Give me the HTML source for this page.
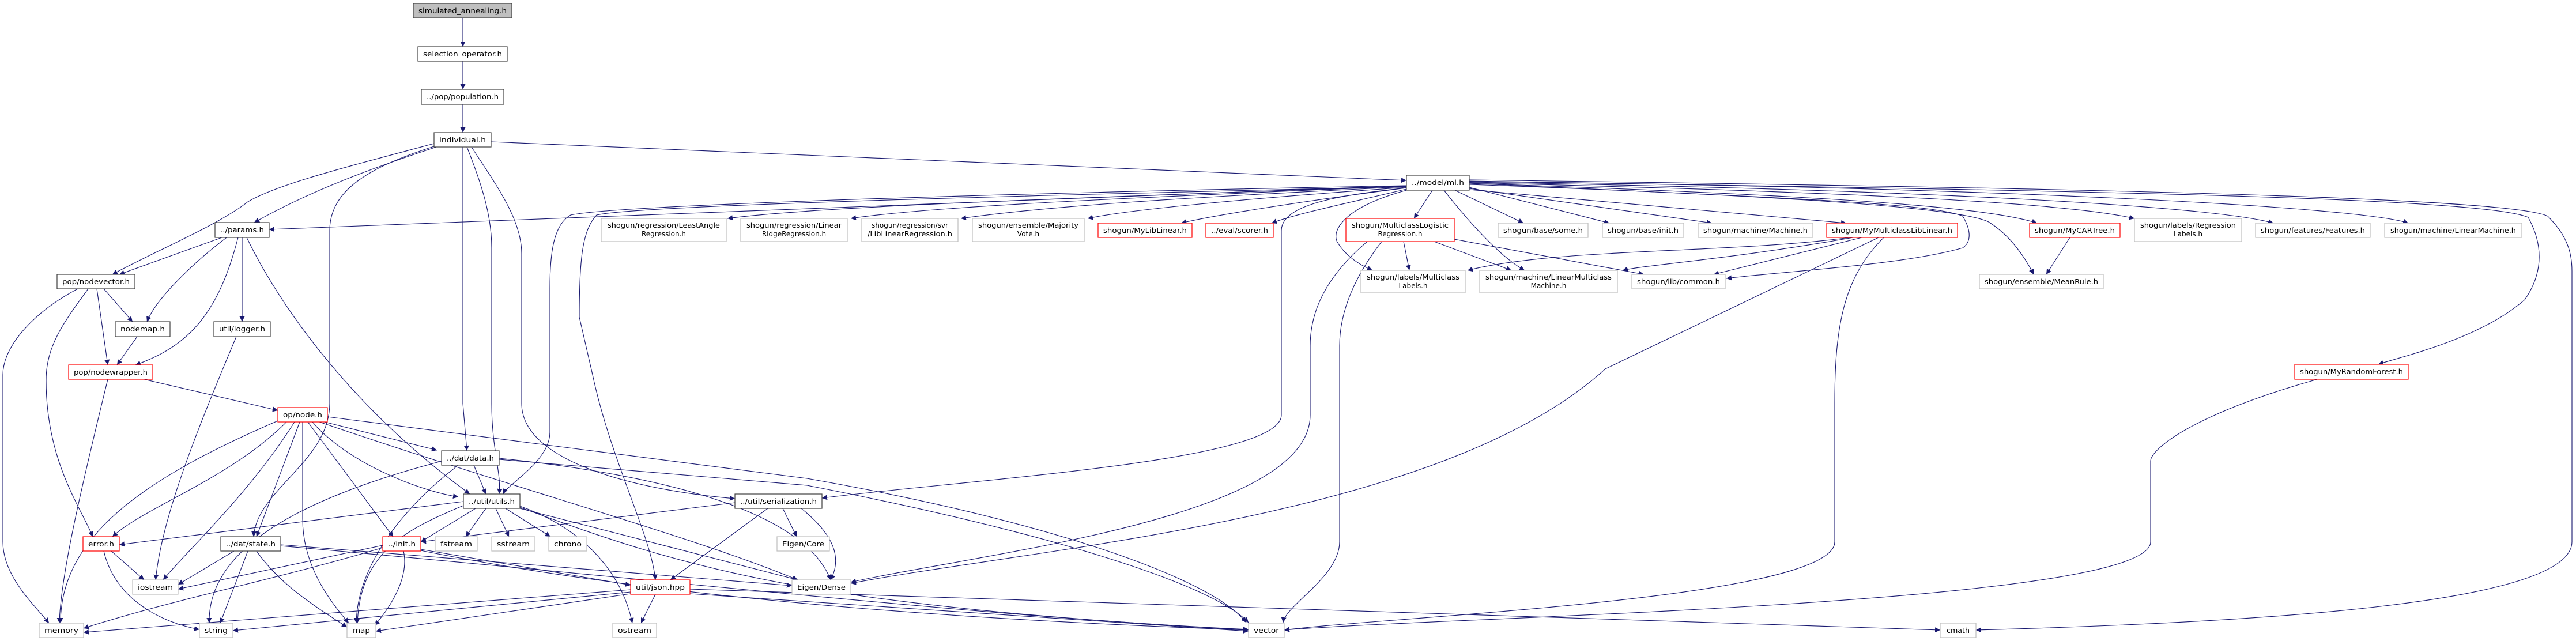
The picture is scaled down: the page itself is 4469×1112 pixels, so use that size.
<!DOCTYPE html>
<html><head><meta charset="utf-8"><style>
html,body{margin:0;padding:0;background:#fff;}
svg{display:block;}
text{font-family:"DejaVu Sans","Liberation Sans",sans-serif;font-size:12px;fill:#000;}
.b{fill:#fff;stroke:#404040;stroke-width:1.2}
.r{fill:#fff;stroke:#ff0000;stroke-width:1.2}
.g{fill:#fff;stroke:#bfbfbf;stroke-width:1.2}
.root{fill:#bfbfbf;stroke:#404040;stroke-width:1.2}
.e path{fill:none;stroke:#191970;stroke-width:1.1;marker-end:url(#a)}
</style></head><body>
<svg width="4469" height="1112" viewBox="0 0 4469 1112" xmlns="http://www.w3.org/2000/svg">
<defs><marker id="a" viewBox="0 0 10 10" refX="10" refY="5" markerWidth="9" markerHeight="9" markerUnits="userSpaceOnUse" orient="auto"><path d="M0,0 L10,5 L0,10 z" fill="#191970"/></marker></defs>
<g class="e">
<path d="M803 31 L803 81"/>
<path d="M803 106 L803 155"/>
<path d="M803 181 L803 230"/>
<path d="M852 246 L2440 313"/>
<path d="M760 254 C650 290 540 330 441 386"/>
<path d="M753 249 C600 290 480 320 430 350 C380 390 260 440 195 476"/>
<path d="M753 254 C640 290 572 330 572 400 L572 700 C572 800 445 850 440 931"/>
<path d="M803 255 L803 700 L810 782"/>
<path d="M810 255 C840 330 853 380 853 430 L853 700 C853 780 870 820 866 857"/>
<path d="M818 255 C860 320 905 380 905 440 L905 700 C905 800 1100 850 1275 865"/>
<path d="M2440 322 L467 398"/>
<path d="M2440 322 C1500 340 1050 360 990 373 C960 390 954 440 954 500 L954 750 C954 800 880 840 873 857"/>
<path d="M2440 324 C1500 345 1090 360 1035 373 C1010 400 1005 450 1005 550 L1028 650 C1060 800 1130 930 1137 1006"/>
<path d="M2440 323 C1800 345 1400 360 1262 379"/>
<path d="M2440 323 C1900 345 1600 360 1476 379"/>
<path d="M2440 324 C2000 345 1800 360 1667 379"/>
<path d="M2440 325 C2150 345 1950 365 1887 379"/>
<path d="M2440 326 C2250 350 2100 375 2049 387"/>
<path d="M2440 328 C2350 350 2250 370 2206 387"/>
<path d="M2485 330 L2453 379"/>
<path d="M2524 330 L2643 387"/>
<path d="M2549 325 L2792 387"/>
<path d="M2549 327 L2970 387"/>
<path d="M2549 329 L3203 387"/>
<path d="M2505 330 C2560 400 2610 450 2645 469"/>
<path d="M2549 318 C3000 340 3350 350 3405 375 C3420 400 3420 420 3405 430 C3300 460 3100 470 2995 483"/>
<path d="M2440 330 C2330 360 2310 400 2320 420 C2335 445 2360 460 2381 469"/>
<path d="M2549 318 C3200 340 3450 360 3534 387"/>
<path d="M2549 320 C3100 340 3400 360 3450 385 C3490 410 3515 450 3528 476"/>
<path d="M3591 412 L3550 476"/>
<path d="M2549 317 C3300 335 3600 355 3703 379"/>
<path d="M2549 316 C3400 330 3850 360 3944 387"/>
<path d="M2549 315 C3500 325 4100 360 4178 387"/>
<path d="M2549 314 C3500 330 4300 340 4386 377 C4410 420 4415 470 4380 520 C4300 590 4160 620 4126 632"/>
<path d="M2549 312 C3500 325 4350 340 4420 375 C4455 410 4462 440 4462 470 L4462 940 C4462 1050 3900 1080 3428 1093"/>
<path d="M2440 326 C2300 340 2223 360 2223 400 L2223 720 C2223 800 1700 830 1426 864"/>
<path d="M2435 419 L2445 469"/>
<path d="M2488 419 L2622 469"/>
<path d="M2523 415 L2852 476"/>
<path d="M2372 419 C2300 480 2273 540 2273 600 L2273 720 C2273 900 1700 960 1476 1010"/>
<path d="M2397 419 C2350 480 2324 540 2324 600 L2324 940 C2324 1000 2230 1050 2226 1080"/>
<path d="M3209 412 C3000 440 2700 430 2546 469"/>
<path d="M3215 412 C3000 450 2850 460 2815 469"/>
<path d="M3230 412 L2973 476"/>
<path d="M3259 412 L2785 640 C2500 900 1800 950 1476 1012"/>
<path d="M3268 412 C3200 480 3183 560 3183 700 L3183 940 C3183 1040 2400 1070 2228 1093"/>
<path d="M4020 658 C3800 720 3731 780 3731 800 L3731 940 C3731 1050 2500 1070 2228 1093"/>
<path d="M385 412 L207 476"/>
<path d="M393 412 C330 460 270 520 255 558"/>
<path d="M413 412 C380 540 330 600 235 633"/>
<path d="M420 412 L420 558"/>
<path d="M428 412 C480 520 600 700 815 857"/>
<path d="M135 501 C60 540 5 600 5 650 L5 940 C5 1000 60 1050 85 1081"/>
<path d="M153 501 C110 560 80 600 80 660 C80 800 140 880 161 931"/>
<path d="M168 501 L187 633"/>
<path d="M180 501 L230 558"/>
<path d="M238 584 L203 633"/>
<path d="M410 584 C340 750 280 900 270 1006"/>
<path d="M187 658 C140 850 105 1000 103 1081"/>
<path d="M250 658 L482 712"/>
<path d="M482 730 C250 830 105 930 105 1081"/>
<path d="M497 732 C400 830 250 880 195 931"/>
<path d="M511 732 C430 860 320 960 283 1006"/>
<path d="M520 732 L445 931"/>
<path d="M525 732 L525 900 C525 980 570 1040 605 1081"/>
<path d="M534 732 L682 931"/>
<path d="M542 732 C600 800 720 850 795 862"/>
<path d="M554 732 C900 850 1200 930 1384 1006"/>
<path d="M555 730 L758 781"/>
<path d="M568 723 L1400 830 C1800 900 2100 1000 2162 1080"/>
<path d="M822 807 L843 857"/>
<path d="M795 807 C700 880 620 980 618 1081"/>
<path d="M766 800 C500 870 360 960 363 1081"/>
<path d="M866 795 C1200 830 1400 900 1441 1006"/>
<path d="M866 797 L1400 842 C1800 920 2100 1010 2166 1080"/>
<path d="M804 870 L207 945"/>
<path d="M825 882 L730 940"/>
<path d="M843 882 L808 931"/>
<path d="M860 882 L883 931"/>
<path d="M877 882 L955 931"/>
<path d="M804 877 C700 920 625 960 620 1081"/>
<path d="M902 878 C1020 920 1080 1000 1097 1081"/>
<path d="M902 882 L1384 1006"/>
<path d="M902 880 C1200 990 1400 1050 2166 1093"/>
<path d="M1332 882 L1163 1006"/>
<path d="M1358 882 L1382 931"/>
<path d="M1390 882 C1450 930 1460 970 1441 1006"/>
<path d="M1275 872 L730 940"/>
<path d="M193 956 L250 1006"/>
<path d="M180 956 C200 1040 280 1080 346 1092"/>
<path d="M406 956 L309 1014"/>
<path d="M430 956 L382 1081"/>
<path d="M445 956 C490 1020 560 1060 602 1088"/>
<path d="M487 945 L1374 1016"/>
<path d="M487 947 C1200 1010 1700 1070 2166 1092"/>
<path d="M664 946 L309 1022"/>
<path d="M664 950 C500 1000 300 1040 145 1090"/>
<path d="M700 956 C710 1000 680 1050 650 1085"/>
<path d="M730 953 L1094 1015"/>
<path d="M730 955 C1200 1050 1800 1080 2166 1093"/>
<path d="M1094 1023 L145 1097"/>
<path d="M1094 1027 L404 1094"/>
<path d="M1094 1030 L652 1095"/>
<path d="M1137 1031 L1112 1081"/>
<path d="M1197 1030 L2166 1095"/>
<path d="M1197 1022 L3366 1093"/>
</g>
<g text-anchor="middle">
<rect class="root" x="717" y="6" width="171" height="25"/><text x="802.5" y="23" textLength="153" lengthAdjust="spacingAndGlyphs">simulated_annealing.h</text>
<rect class="b" x="725" y="81" width="155" height="25"/><text x="802.5" y="98" textLength="137" lengthAdjust="spacingAndGlyphs">selection_operator.h</text>
<rect class="b" x="731" y="155" width="143" height="26"/><text x="802.5" y="172" textLength="125" lengthAdjust="spacingAndGlyphs">../pop/population.h</text>
<rect class="b" x="753" y="230" width="99" height="25"/><text x="802.5" y="247" textLength="81" lengthAdjust="spacingAndGlyphs">individual.h</text>
<rect class="b" x="2440" y="304" width="109" height="26"/><text x="2494.5" y="321" textLength="91" lengthAdjust="spacingAndGlyphs">../model/ml.h</text>
<rect class="b" x="373" y="386" width="94" height="26"/><text x="420" y="403" textLength="76" lengthAdjust="spacingAndGlyphs">../params.h</text>
<rect class="g" x="1043" y="379" width="217" height="40"/><text x="1151.5" y="395" textLength="195" lengthAdjust="spacingAndGlyphs">shogun/regression/LeastAngle</text><text x="1151.5" y="410">Regression.h</text>
<rect class="g" x="1285" y="379" width="185" height="40"/><text x="1377.5" y="395" textLength="165" lengthAdjust="spacingAndGlyphs">shogun/regression/Linear</text><text x="1377.5" y="410">RidgeRegression.h</text>
<rect class="g" x="1495" y="379" width="167" height="40"/><text x="1578.5" y="395">shogun/regression/svr</text><text x="1578.5" y="410" textLength="147" lengthAdjust="spacingAndGlyphs">/LibLinearRegression.h</text>
<rect class="g" x="1687" y="379" width="194" height="40"/><text x="1784" y="395" textLength="174" lengthAdjust="spacingAndGlyphs">shogun/ensemble/Majority</text><text x="1784" y="410">Vote.h</text>
<rect class="r" x="1905" y="387" width="163" height="25"/><text x="1986.5" y="404" textLength="145" lengthAdjust="spacingAndGlyphs">shogun/MyLibLinear.h</text>
<rect class="r" x="2092" y="387" width="117" height="25"/><text x="2150.5" y="404" textLength="99" lengthAdjust="spacingAndGlyphs">../eval/scorer.h</text>
<rect class="r" x="2335" y="379" width="188" height="40"/><text x="2429" y="395" textLength="168" lengthAdjust="spacingAndGlyphs">shogun/MulticlassLogistic</text><text x="2429" y="410">Regression.h</text>
<rect class="g" x="2599" y="387" width="156" height="25"/><text x="2677" y="404" textLength="138" lengthAdjust="spacingAndGlyphs">shogun/base/some.h</text>
<rect class="g" x="2780" y="387" width="141" height="25"/><text x="2850.5" y="404" textLength="123" lengthAdjust="spacingAndGlyphs">shogun/base/init.h</text>
<rect class="g" x="2946" y="387" width="199" height="25"/><text x="3045.5" y="404" textLength="181" lengthAdjust="spacingAndGlyphs">shogun/machine/Machine.h</text>
<rect class="r" x="3169" y="387" width="227" height="25"/><text x="3282.5" y="404" textLength="209" lengthAdjust="spacingAndGlyphs">shogun/MyMulticlassLibLinear.h</text>
<rect class="r" x="3521" y="387" width="157" height="25"/><text x="3599.5" y="404" textLength="139" lengthAdjust="spacingAndGlyphs">shogun/MyCARTree.h</text>
<rect class="g" x="3703" y="379" width="186" height="40"/><text x="3796" y="395" textLength="166" lengthAdjust="spacingAndGlyphs">shogun/labels/Regression</text><text x="3796" y="410">Labels.h</text>
<rect class="g" x="3913" y="387" width="199" height="25"/><text x="4012.5" y="404" textLength="181" lengthAdjust="spacingAndGlyphs">shogun/features/Features.h</text>
<rect class="g" x="4137" y="387" width="238" height="25"/><text x="4256" y="404" textLength="218" lengthAdjust="spacingAndGlyphs">shogun/machine/LinearMachine.h</text>
<rect class="g" x="2361" y="469" width="181" height="39"/><text x="2451.5" y="485" textLength="161" lengthAdjust="spacingAndGlyphs">shogun/labels/Multiclass</text><text x="2451.5" y="500">Labels.h</text>
<rect class="g" x="2567" y="469" width="239" height="39"/><text x="2686.5" y="485" textLength="219" lengthAdjust="spacingAndGlyphs">shogun/machine/LinearMulticlass</text><text x="2686.5" y="500">Machine.h</text>
<rect class="g" x="2831" y="476" width="162" height="25"/><text x="2912" y="493" textLength="144" lengthAdjust="spacingAndGlyphs">shogun/lib/common.h</text>
<rect class="g" x="3434" y="476" width="215" height="25"/><text x="3541.5" y="493" textLength="197" lengthAdjust="spacingAndGlyphs">shogun/ensemble/MeanRule.h</text>
<rect class="r" x="3981" y="632" width="197" height="26"/><text x="4079.5" y="649" textLength="179" lengthAdjust="spacingAndGlyphs">shogun/MyRandomForest.h</text>
<rect class="b" x="99" y="476" width="135" height="25"/><text x="166.5" y="493" textLength="117" lengthAdjust="spacingAndGlyphs">pop/nodevector.h</text>
<rect class="b" x="200" y="558" width="95" height="26"/><text x="247.5" y="575" textLength="77" lengthAdjust="spacingAndGlyphs">nodemap.h</text>
<rect class="b" x="371" y="558" width="98" height="26"/><text x="420" y="575" textLength="80" lengthAdjust="spacingAndGlyphs">util/logger.h</text>
<rect class="r" x="119" y="633" width="146" height="25"/><text x="192" y="650" textLength="128" lengthAdjust="spacingAndGlyphs">pop/nodewrapper.h</text>
<rect class="r" x="482" y="707" width="86" height="25"/><text x="525" y="724" textLength="68" lengthAdjust="spacingAndGlyphs">op/node.h</text>
<rect class="b" x="766" y="782" width="100" height="25"/><text x="816" y="799" textLength="82" lengthAdjust="spacingAndGlyphs">../dat/data.h</text>
<rect class="b" x="804" y="857" width="98" height="25"/><text x="853" y="874" textLength="80" lengthAdjust="spacingAndGlyphs">../util/utils.h</text>
<rect class="b" x="1275" y="857" width="151" height="25"/><text x="1350.5" y="874" textLength="133" lengthAdjust="spacingAndGlyphs">../util/serialization.h</text>
<rect class="r" x="144" y="931" width="63" height="25"/><text x="175.5" y="948" textLength="45" lengthAdjust="spacingAndGlyphs">error.h</text>
<rect class="b" x="383" y="931" width="104" height="25"/><text x="435" y="948" textLength="86" lengthAdjust="spacingAndGlyphs">../dat/state.h</text>
<rect class="r" x="664" y="931" width="66" height="25"/><text x="697" y="948" textLength="48" lengthAdjust="spacingAndGlyphs">../init.h</text>
<rect class="g" x="755" y="931" width="73" height="25"/><text x="791.5" y="948" textLength="55" lengthAdjust="spacingAndGlyphs">fstream</text>
<rect class="g" x="853" y="931" width="75" height="25"/><text x="890.5" y="948" textLength="57" lengthAdjust="spacingAndGlyphs">sstream</text>
<rect class="g" x="952" y="931" width="66" height="25"/><text x="985" y="948" textLength="48" lengthAdjust="spacingAndGlyphs">chrono</text>
<rect class="g" x="1348" y="931" width="91" height="25"/><text x="1393.5" y="948" textLength="73" lengthAdjust="spacingAndGlyphs">Eigen/Core</text>
<rect class="g" x="230" y="1006" width="79" height="25"/><text x="269.5" y="1023" textLength="61" lengthAdjust="spacingAndGlyphs">iostream</text>
<rect class="r" x="1094" y="1006" width="103" height="25"/><text x="1145.5" y="1023" textLength="85" lengthAdjust="spacingAndGlyphs">util/json.hpp</text>
<rect class="g" x="1374" y="1006" width="102" height="25"/><text x="1425" y="1023" textLength="84" lengthAdjust="spacingAndGlyphs">Eigen/Dense</text>
<rect class="g" x="68" y="1081" width="77" height="25"/><text x="106.5" y="1098" textLength="59" lengthAdjust="spacingAndGlyphs">memory</text>
<rect class="g" x="346" y="1081" width="58" height="25"/><text x="375" y="1098" textLength="40" lengthAdjust="spacingAndGlyphs">string</text>
<rect class="g" x="602" y="1081" width="50" height="25"/><text x="627" y="1098" textLength="30" lengthAdjust="spacingAndGlyphs">map</text>
<rect class="g" x="1063" y="1081" width="76" height="25"/><text x="1101" y="1098" textLength="58" lengthAdjust="spacingAndGlyphs">ostream</text>
<rect class="g" x="2166" y="1081" width="62" height="25"/><text x="2197" y="1098" textLength="44" lengthAdjust="spacingAndGlyphs">vector</text>
<rect class="g" x="3366" y="1081" width="62" height="25"/><text x="3397" y="1098" textLength="40" lengthAdjust="spacingAndGlyphs">cmath</text>
</g>
</svg>
</body></html>
